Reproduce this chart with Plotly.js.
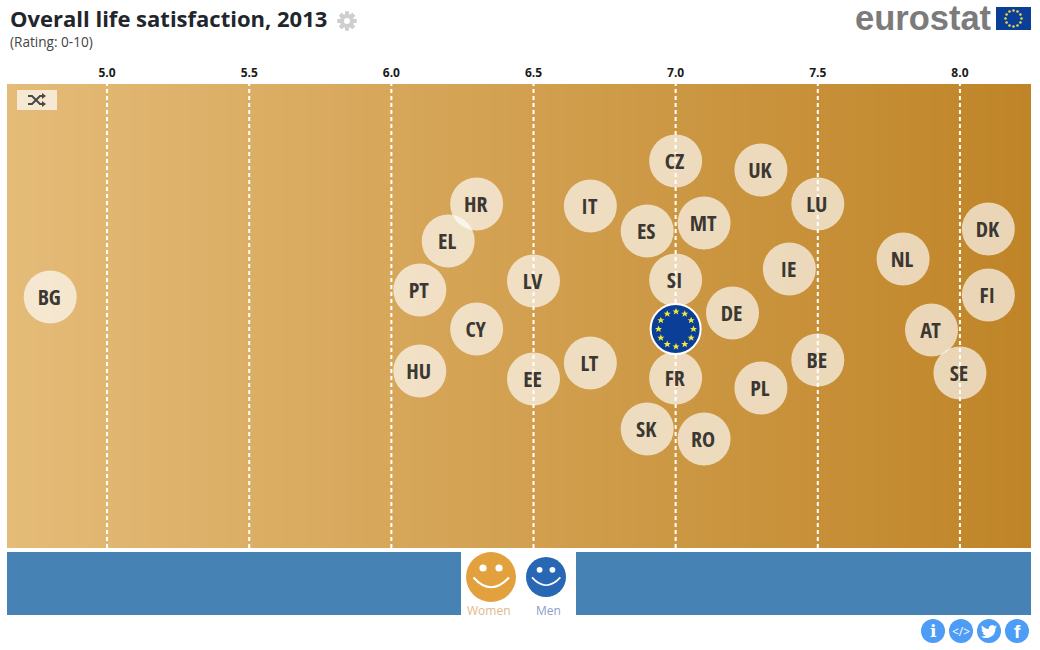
<!DOCTYPE html>
<html>
<head>
<meta charset="utf-8">
<script src="https://cdn.plot.ly/plotly-3.0.1.min.js"></script>
<style>html,body{margin:0;padding:0;background:#fff;overflow:hidden}</style>
</head>
<body>
<div id="chart" style="width:1040px;height:650px"></div>
<script>
var countries = ['BG','HR','EL','PT','CY','HU','LV','EE','IT','LT','ES','SK','CZ','SI','FR','MT','RO','DE','UK','PL','IE','LU','BE','NL','AT','SE','DK','FI'];
var satisfaction = [4.8,6.3,6.2,6.1,6.3,6.1,6.5,6.5,6.7,6.7,6.9,6.9,7.0,7.0,7.0,7.1,7.1,7.2,7.3,7.3,7.4,7.5,7.5,7.8,7.9,8.0,8.1,8.1];
var swarm = [19,112,75,26,-13,-55,35,-63,110,-47,85,-113,155,36,-62,93,-123,3,146,-72,47,112,-44,57,-14,-57,87,21];
var euValue = [7.0];
var euSwarm = [-13];
var tickValues = [5,5.5,6,6.5,7,7.5,8];
var tickLabels = ['5.0','5.5','6.0','6.5','7.0','7.5','8.0'];
var W = 1040, H = 650;
var bandStops = [4.648,8.25];
var bandShade = [[0,1],[0,1]];
var bandColors = [[0,'#e4bb78'],[0.5,'#d2a050'],[1,'#bf8427']];

function py(y){return 1-(y-84)/(548-84);}
function ppx(x){return (x-7)/(1031-7);}
function uri(w,h,body){return 'data:image/svg+xml;utf8,'+encodeURIComponent('<svg xmlns="http://www.w3.org/2000/svg" width="'+w+'" height="'+h+'" viewBox="0 0 '+w+' '+h+'">'+body+'</svg>');}
function icn(src,x,y,w,h){return {source:src,xref:'paper',yref:'paper',x:ppx(x),y:py(y),sizex:w/1024,sizey:h/464,xanchor:'left',yanchor:'top',sizing:'stretch',layer:'above'};}
function rect(x0,y0,x1,y1,c,type){return {type:type||'rect',xref:'paper',yref:'paper',x0:ppx(x0),x1:ppx(x1),y0:py(y0),y1:py(y1),fillcolor:c,line:{width:0},layer:'below'};}
function circ(cx,cy,r,c){return rect(cx-r,cy-r,cx+r,cy+r,c,'circle');}
function note(text,x,y,size,color,extra){var a={text:text,xref:'paper',yref:'paper',x:ppx(x),y:py(y),showarrow:false,xanchor:'center',yanchor:'middle',font:{family:'Open Sans, sans-serif',size:size,color:color}};for(var k in extra){if(k==='font'){for(var f in extra.font)a.font[f]=extra.font[f];}else a[k]=extra[k];}return a;}

function smile(d){
  var s=d/50;
  return uri(d,d,'<g transform="scale('+s+')" fill="none"><circle cx="17" cy="16" r="3.6" fill="#fff"/><circle cx="33" cy="16" r="3.6" fill="#fff"/><path d="M7.500 25.500 Q25 45 43 25.500" stroke="#fff" stroke-width="2"/></g>');
}
var starSvg='';
(function(){
  var star='M0 -3.600L1 -1.100L3.500 -1.100L1.600 0.500L2.300 3L0 1.500L-2.300 3L-1.600 0.500L-3.500 -1.100L-1 -1.100Z';
  for(var i=0;i<12;i++){var a=i*Math.PI/6;starSvg+='<path transform="translate('+(26+17.5*Math.sin(a)).toFixed(2)+' '+(26-17.5*Math.cos(a)).toFixed(2)+')" d="'+star+'" fill="#f2e83a"/>';}
})();
var flagStars='';
(function(){for(var i=0;i<12;i++){var a=i*Math.PI/6;flagStars+='<circle cx="'+(17.5+8*Math.sin(a)).toFixed(2)+'" cy="'+(11.5-8*Math.cos(a)).toFixed(2)+'" r="1.3" fill="#e8d84a"/>';}})();
var gearTeeth='';
(function(){for(var i=0;i<8;i++){gearTeeth+='<rect x="8" y="0.500" width="4" height="19" fill="#cfcfcf" transform="rotate('+(i*45)+' 10 10)"/>';}})();
var gearSvg=uri(20,20,gearTeeth+'<circle cx="10" cy="10" r="7" fill="#cfcfcf"/><circle cx="10" cy="10" r="3" fill="#fff"/>');
var shuffleSvg=uri(40,20,'<rect width="40" height="20" fill="#fff" fill-opacity="0.68"/><g transform="translate(11 3)"><g fill="none" stroke="#4a4a44" stroke-width="2"><path d="M0 3H4L12 11H15"/><path d="M0 11H4L12 3H15"/></g><path d="M14 0L18 3L14 6ZM14 8L18 11L14 14Z" fill="#4a4a44"/></g>');
var twitterSvg=uri(16,13,'<path fill="#fff" d="M16 1.600c-.6.3-1.200.4-1.900.5.7-.4 1.200-1 1.400-1.800-.6.4-1.300.7-2.100.8A3.300 3.300 0 0 0 7.800 4.100 9.300 9.300 0 0 1 1.100.6a3.300 3.300 0 0 0 1 4.400c-.5 0-1-.2-1.500-.4 0 1.600 1.100 3 2.600 3.300-.5.100-1 .100-1.500 0 .4 1.300 1.600 2.300 3.100 2.300A6.600 6.600 0 0 1 0 11.500 9.300 9.300 0 0 0 14.400 3.200c.6-.4 1.200-1 1.600-1.600z"/>');

var labelNudgeX = -0.0035, labelNudgeY = -2;

var traces = [
  {type:'heatmap',x:bandStops,y:[-232,232],z:bandShade,zmin:0,zmax:1,zsmooth:'best',colorscale:bandColors,showscale:false,hoverinfo:'skip'},
  {type:'scatter',mode:'lines',x:[].concat.apply([],tickValues.map(function(v){return [v,v,null];})),y:[].concat.apply([],tickValues.map(function(){return [-232,232,null];})),line:{color:'#ffffff',width:2,dash:'4px,3px'},hoverinfo:'skip',showlegend:false},
  {type:'scatter',mode:'markers',x:satisfaction,y:swarm,text:countries,
   marker:{size:53,color:'rgba(255,255,255,0.66)',line:{width:0}},showlegend:false,hovertemplate:'%{text}: %{x:.1f}<extra></extra>'},
  {type:'scatter',mode:'text',x:satisfaction.map(function(v){return v+labelNudgeX;}),y:swarm.map(function(v){return v+labelNudgeY;}),text:countries,textposition:'middle center',
   textfont:{family:'"Open Sans Condensed", "DejaVu Sans Condensed", sans-serif',size:22,color:'#3b3732',weight:'bold'},
   showlegend:false,hoverinfo:'skip'},
  {type:'scatter',mode:'markers',x:euValue,y:euSwarm,marker:{size:50,color:'#0b3f97',line:{color:'#ffffff',width:2}},showlegend:false,hovertemplate:'EU: %{x:.1f}<extra></extra>'}
];

var layout = {
  width:W,height:H,
  margin:{l:7,r:9,t:84,b:102,pad:0},
  paper_bgcolor:'#ffffff',plot_bgcolor:'#d2a050',
  showlegend:false,
  title:{text:'Overall life satisfaction, 2013',x:10/W,xref:'container',xanchor:'left',y:1-19/H,yref:'container',yanchor:'middle',font:{family:'Open Sans, sans-serif',size:22,color:'#22262c',weight:'bold'}},
  xaxis:{side:'top',range:[4.648,8.25],tickmode:'array',tickvals:tickValues,ticktext:tickLabels,ticks:'',ticklen:0,showgrid:false,zeroline:false,showline:false,ticklabelstandoff:4,
    tickfont:{family:'Open Sans, sans-serif',size:12,color:'#1a1a1a',weight:'bold'}},
  yaxis:{range:[-232,232],visible:false,showgrid:false,zeroline:false,fixedrange:true},
  shapes:[
    rect(7,552,461,615,'#4682b4'),
    rect(576,552,1031,615,'#4682b4'),
    circ(491,577,25,'#e3a13d'),
    circ(546,577,20,'#2767b3'),
    circ(933,631,12,'#4d9cf6'),
    circ(961,631,12,'#4d9cf6'),
    circ(989,631,12,'#4d9cf6'),
    circ(1017,631,12,'#4d9cf6'),
    rect(996,7,1031,30,'#0b3f97')
  ],
  images:[
    icn(uri(52,52,starSvg),650,303,52,52),
    icn(smile(50),466,552,50,50),
    icn(smile(40),526,557,40,40),
    icn(gearSvg,337,11,20,20),
    icn(shuffleSvg,17,90,40,20),
    icn(uri(35,23,flagStars),996,7,35,23),
    icn(twitterSvg,981,625,16,13)
  ],
  annotations:[
    note('(Rating: 0-10)',8,41,13.6,'#444444',{xanchor:'left'}),
    note('eurostat',994,17.5,34.5,'#7b7b7b',{xanchor:'right',font:{family:'Liberation Sans, Arial, sans-serif',weight:'bold'}}),
    note('Women',489,610,12,'#e0b98a'),
    note('Men',548,610,12,'#8ba0c8'),
    note('i',933,631,17,'#ffffff',{font:{weight:'bold',family:'DejaVu Serif, serif'}}),
    note('&lt;/&gt;',961,631,12,'#ffffff'),
    note('f',1017,631,19,'#ffffff',{font:{weight:'bold',family:'Liberation Sans, sans-serif'}})
  ]
};
Plotly.newPlot('chart',traces,layout,{displayModeBar:false});
</script>
</body>
</html>
